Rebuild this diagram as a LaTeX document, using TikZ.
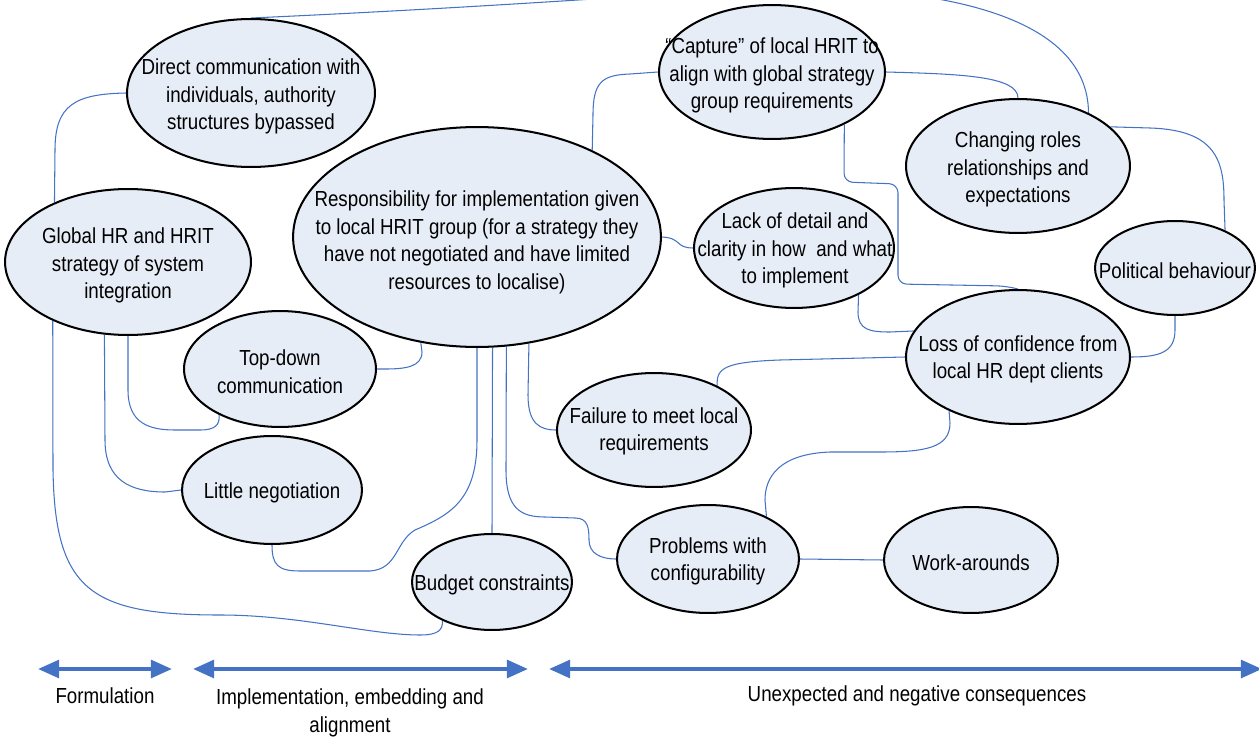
\documentclass[tikz,border=0pt]{standalone}
\usepackage{fontspec}
\setmainfont[FakeStretch=0.86]{Liberation Sans}
\usetikzlibrary{shapes.geometric,arrows.meta,backgrounds}
\definecolor{conn}{RGB}{68,114,196}
\definecolor{bubfill}{RGB}{231,237,247}
\tikzset{
  bub/.style 2 args={ellipse, draw=black, line width=1.15pt, fill=bubfill,
    inner sep=0pt, minimum width=#1*0.04cm, minimum height=#2*0.04cm},
  txt/.style={align=center, inner sep=0pt, font=\fontsize{12.4}{15.7}\selectfont},
  link/.style={draw=conn, line width=0.6pt},
  phase/.style={draw=conn, line width=2.3pt, {Triangle[length=12pt,width=10pt]}-{Triangle[length=12pt,width=10pt]}},
}
\begin{document}
\begin{tikzpicture}[x=0.02cm,y=-0.02cm]
\useasboundingbox (0,0) rectangle (1259,737);
\clip (0,0) rectangle (1259,737);

% bubbles
\node[bub={124}{74}] (dc) at (251,93) {};
\node[bub={123}{73}] (gh) at (128,262) {};
\node[bub={184}{110}] (resp) at (477,237) {};
\node[bub={96}{58}] (td) at (280,369) {};
\node[bub={90}{54}] (ln) at (272,490) {};
\node[bub={80}{48}] (bc) at (492,582) {};
\node[bub={113}{67}] (cap) at (772,72) {};
\node[bub={112}{67}] (cr) at (1018,166) {};
\node[bub={100}{60}] (lk) at (794,248) {};
\node[bub={80}{47}] (pb) at (1175,268) {};
\node[bub={112}{67}] (loc) at (1018,357) {};
\node[bub={97}{57}] (fail) at (654,430) {};
\node[bub={91}{54}] (prob) at (708,559) {};
\node[bub={87}{53}] (wa) at (971,560) {};

% texts
\node[txt] (dct) at (251,96.5) {Direct communication with\\individuals, authority\\structures bypassed};
\node[txt] (ght) at (128,265.5) {Global HR and HRIT\\strategy of system\\integration};
\node[txt] (respt) at (477,242.5) {Responsibility for implementation given\\to local HRIT group (for a strategy they\\have not negotiated and have limited\\resources to localise)};
\node[txt] (tdt) at (280,371.5) {Top-down\\communication};
\node[txt] (lnt) at (272,492.5) {Little negotiation};
\node[txt] (bct) at (492,584.5) {Budget constraints};
\node[txt] (capt) at (772,75.5) {``Capture'' of local HRIT to\\align with global strategy\\group requirements};
\node[txt] (crt) at (1018,169.5) {Changing roles\\relationships and\\expectations};
\node[txt] (lkt) at (795,250.5) {Lack of detail and\\clarity in how~ and what\\to implement};
\node[txt] (pbt) at (1175,270.5) {Political behaviour};
\node[txt] (loct) at (1018,359.5) {Loss of confidence from\\local HR dept clients};
\node[txt] (failt) at (654,431.5) {Failure to meet local\\requirements};
\node[txt] (probt) at (708,561.5) {Problems with\\configurability};
\node[txt] (wat) at (971,562.5) {Work-arounds};

% connectors
\begin{pgfonlayer}{background}
\draw[link] (dc.north) .. controls (450,9) and (610,-2) .. (760,-12)
  .. controls (940,-16) and (1088,15) .. (cr.37);
\draw[link] (dc.west) .. controls (75,94) and (55,105) .. (55,150) -- (gh.141);
\draw[link] (resp.37) -- (593,115) .. controls (593,82) and (602,75) .. (630,74) -- (cap.west);
\draw[link] (cap.east) .. controls (960,74) and (1018,76) .. (cr.north);
\draw[link, rounded corners=5pt] (cap.-36) -- (844,182) -- (898,184) -- (898,284) -- (1005,286) -- (loc.north);
\draw[link] (resp.east) .. controls (682,238) and (675,248) .. (lk.west);
\draw[link] (lk.-36) -- (858,312) .. controls (858,330) and (870,332) .. (890,332) -- (loc.166);
\draw[link] (cr.23) -- (1150,128) .. controls (1215,130) and (1224,160) .. (1224,200) -- (pb.37);
\draw[link] (pb.south) -- (1175,330) .. controls (1175,352) and (1160,357) .. (loc.east);
\draw[link] (loc.west) -- (780,360) .. controls (725,362) and (716,368) .. (fail.35);
\draw[link] (loc.218) -- (950,423) .. controls (950,448) and (925,452) .. (880,452) -- (830,452)
  .. controls (778,454) and (765,478) .. (765,500) -- (prob.36);
\draw[link] (prob.east) -- (wa.west);
\draw[link] (resp.242) -- (422,352) .. controls (422,367) and (405,369) .. (385,369) -- (td.east);
\draw[link] (resp.south) -- (477,440) .. controls (477,500) and (450,515) .. (415,530)
  .. controls (395,542) and (398,569) .. (370,571) -- (300,571) .. controls (278,571) and (272,565) .. (ln.south);
\draw[link] (resp.-82) -- (bc.north);
\draw[link] (resp.-75) -- (506,470) .. controls (506,508) and (520,517) .. (545,517) -- (575,518)
  .. controls (588,518) and (589,528) .. (589,540) .. controls (589,553) and (600,559) .. (prob.west);
\draw[link] (resp.-64) -- (528,395) .. controls (528,424) and (540,430) .. (fail.west);
\draw[link] (gh.south) -- (128,390) .. controls (128,424) and (150,430) .. (175,430) -- (200,430)
  .. controls (215,430) and (220,425) .. (td.-143);
\draw[link] (gh.-108) -- (105,440) .. controls (105,480) and (130,492) .. (165,492) -- (ln.west);
\draw[link] (gh.-142) -- (53,470) .. controls (55,590) and (90,615) .. (220,615)
  .. controls (300,615) and (370,635) .. (420,635) .. controls (438,635) and (443,630) .. (bc.-142);
\end{pgfonlayer}

% phases
\coordinate (f1) at (38,669);
\coordinate (f2) at (172,669);
\coordinate (i1) at (193,669);
\coordinate (i2) at (528,669);
\coordinate (u1) at (549,669);
\coordinate (u2) at (1262,669);
\draw[phase] (f1) -- (f2);
\draw[phase] (i1) -- (i2);
\draw[phase] (u1) -- (u2);
\node[txt] (fl) at (105,696) {Formulation};
\node[txt] (il) at (350,713) {Implementation, embedding and\\alignment};
\node[txt] (ul) at (917,696) {Unexpected and negative consequences};
\end{tikzpicture}
\end{document}
